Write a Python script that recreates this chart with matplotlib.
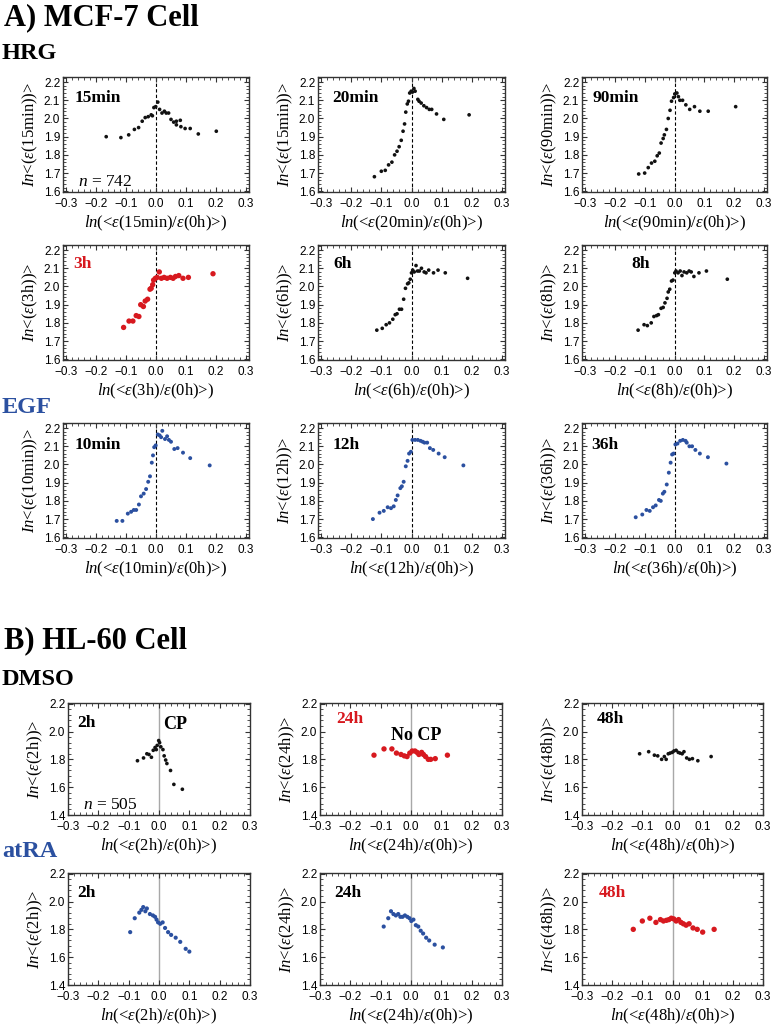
import matplotlib
matplotlib.use("Agg")
import matplotlib.pyplot as plt
from matplotlib.ticker import MultipleLocator

plt.rcParams['font.family'] = ['Liberation Serif', 'DejaVu Serif']
plt.rcParams['mathtext.fontset'] = 'custom'
plt.rcParams['mathtext.rm'] = 'Liberation Serif'
plt.rcParams['mathtext.it'] = 'Liberation Serif:italic'
plt.rcParams['mathtext.bf'] = 'Liberation Serif:bold'

BLACK = '#111111'
RED = '#d7191f'
BLUE = '#2b50a0'

# ---------------- MCF-7, HRG ----------------
hrg_15min_x = [-0.166, -0.117, -0.091, -0.072, -0.058, -0.046, -0.036, -0.026, -0.016, -0.012,
               -0.007, -0.001, 0.006, 0.012, 0.020, 0.028, 0.034, 0.042, 0.050, 0.059,
               0.068, 0.068, 0.081, 0.083, 0.097, 0.114, 0.141, 0.201]
hrg_15min_y = [1.900, 1.895, 1.910, 1.940, 1.950, 1.985, 2.005, 2.010, 2.020, 2.015,
               2.060, 2.065, 2.090, 2.050, 2.030, 2.040, 2.030, 2.030, 1.995, 1.980,
               1.985, 1.965, 1.990, 1.955, 1.945, 1.945, 1.915, 1.930]

hrg_20min_x = [-0.123, -0.100, -0.087, -0.076, -0.065, -0.056, -0.048, -0.041, -0.034, -0.028,
               -0.023, -0.019, -0.014, -0.010, -0.006, -0.001, 0.003, 0.008, 0.012, 0.021,
               0.025, 0.032, 0.041, 0.050, 0.059, 0.067, 0.083, 0.107, 0.191]
hrg_20min_y = [1.680, 1.710, 1.715, 1.745, 1.760, 1.800, 1.820, 1.845, 1.880, 1.930,
               1.970, 2.035, 2.080, 2.095, 2.140, 2.150, 2.145, 2.165, 2.150, 2.105,
               2.095, 2.085, 2.070, 2.060, 2.050, 2.050, 2.025, 1.995, 2.020]

hrg_90min_x = [-0.120, -0.100, -0.088, -0.077, -0.066, -0.058, -0.051, -0.045, -0.038, -0.034,
               -0.027, -0.021, -0.015, -0.010, -0.003, 0.001, 0.008, 0.013, 0.018, 0.027,
               0.038, 0.051, 0.067, 0.085, 0.113, 0.205]
hrg_90min_y = [1.695, 1.700, 1.730, 1.755, 1.765, 1.795, 1.810, 1.865, 1.890, 1.910,
               1.940, 2.000, 2.045, 2.095, 2.115, 2.135, 2.140, 2.120, 2.100, 2.100,
               2.075, 2.050, 2.065, 2.040, 2.040, 2.065]

hrg_3h_x = [-0.108, -0.090, -0.077, -0.066, -0.057, -0.051, -0.042, -0.036, -0.028, -0.020,
            -0.016, -0.011, -0.008, -0.002, 0.004, 0.011, 0.018, 0.027, 0.037, 0.048,
            0.057, 0.065, 0.076, 0.090, 0.108, 0.190]
hrg_3h_y = [1.775, 1.810, 1.810, 1.840, 1.835, 1.900, 1.890, 1.920, 1.930, 1.985,
            1.990, 2.010, 2.035, 2.045, 2.050, 2.080, 2.045, 2.050, 2.045, 2.050,
            2.045, 2.055, 2.060, 2.045, 2.050, 2.070]

hrg_6h_x = [-0.115, -0.097, -0.084, -0.073, -0.062, -0.054, -0.048, -0.040, -0.033, -0.026,
            -0.020, -0.013, -0.009, -0.004, 0.000, 0.004, 0.009, 0.015, 0.020, 0.026,
            0.033, 0.042, 0.048, 0.057, 0.073, 0.088, 0.112, 0.186]
hrg_6h_y = [1.760, 1.770, 1.790, 1.800, 1.820, 1.845, 1.850, 1.875, 1.875, 1.930,
            1.990, 2.015, 2.020, 2.040, 2.075, 2.090, 2.080, 2.115, 2.085, 2.085,
            2.100, 2.080, 2.075, 2.090, 2.075, 2.090, 2.075, 2.045]

hrg_8h_x = [-0.122, -0.102, -0.091, -0.078, -0.069, -0.060, -0.054, -0.045, -0.038, -0.032,
            -0.025, -0.021, -0.016, -0.010, -0.005, 0.001, 0.005, 0.012, 0.019, 0.025,
            0.032, 0.041, 0.049, 0.056, 0.065, 0.082, 0.107, 0.177]
hrg_8h_y = [1.760, 1.790, 1.785, 1.800, 1.835, 1.840, 1.845, 1.880, 1.885, 1.910,
            1.935, 1.970, 1.985, 2.030, 2.035, 2.075, 2.085, 2.075, 2.085, 2.060,
            2.080, 2.075, 2.085, 2.080, 2.055, 2.075, 2.085, 2.040]

# ---------------- MCF-7, EGF ----------------
egf_10min_x = [-0.131, -0.112, -0.094, -0.083, -0.074, -0.066, -0.057, -0.050, -0.041, -0.033,
               -0.026, -0.020, -0.014, -0.010, -0.006, -0.001, 0.006, 0.012, 0.017, 0.021,
               0.030, 0.037, 0.043, 0.050, 0.061, 0.072, 0.090, 0.114, 0.179]
egf_10min_y = [1.690, 1.690, 1.730, 1.740, 1.750, 1.750, 1.780, 1.825, 1.840, 1.865,
               1.905, 1.935, 2.010, 2.050, 2.095, 2.105, 2.165, 2.160, 2.150, 2.185,
               2.140, 2.155, 2.135, 2.125, 2.085, 2.090, 2.065, 2.035, 1.995]

egf_12h_x = [-0.128, -0.106, -0.092, -0.079, -0.068, -0.059, -0.052, -0.046, -0.037, -0.032,
             -0.026, -0.019, -0.013, -0.008, -0.002, 0.003, 0.012, 0.021, 0.030, 0.037,
             0.043, 0.052, 0.061, 0.072, 0.090, 0.110, 0.172]
egf_12h_y = [1.700, 1.735, 1.745, 1.765, 1.760, 1.770, 1.805, 1.830, 1.870, 1.880,
             1.905, 1.990, 2.020, 2.060, 2.070, 2.135, 2.135, 2.135, 2.130, 2.125,
             2.120, 2.120, 2.090, 2.080, 2.060, 2.040, 1.995]

egf_36h_x = [-0.130, -0.108, -0.094, -0.083, -0.072, -0.063, -0.052, -0.046, -0.039, -0.034,
             -0.026, -0.019, -0.013, -0.008, -0.003, 0.003, 0.010, 0.019, 0.028, 0.037,
             0.041, 0.050, 0.059, 0.070, 0.085, 0.112, 0.174]
egf_36h_y = [1.710, 1.725, 1.750, 1.745, 1.765, 1.775, 1.805, 1.800, 1.840, 1.850,
             1.890, 1.955, 2.010, 2.055, 2.060, 2.110, 2.115, 2.130, 2.135, 2.130,
             2.120, 2.100, 2.100, 2.080, 2.060, 2.040, 2.005]

# ---------------- HL-60, DMSO ----------------
dmso_2h_x = [-0.071, -0.051, -0.040, -0.033, -0.025, -0.019, -0.013, -0.009, -0.006, -0.001,
             0.002, 0.006, 0.013, 0.017, 0.022, 0.026, 0.038, 0.049, 0.077]
dmso_2h_y = [1.790, 1.810, 1.840, 1.835, 1.815, 1.865, 1.885, 1.870, 1.900, 1.935,
             1.920, 1.890, 1.870, 1.825, 1.795, 1.770, 1.720, 1.620, 1.585]

dmso_24h_x = [-0.122, -0.089, -0.063, -0.048, -0.033, -0.022, -0.013, -0.004, 0.004, 0.013,
              0.020, 0.026, 0.035, 0.041, 0.048, 0.057, 0.065, 0.080, 0.120]
dmso_24h_y = [1.830, 1.875, 1.875, 1.845, 1.835, 1.825, 1.820, 1.845, 1.860, 1.860,
              1.850, 1.835, 1.850, 1.835, 1.820, 1.800, 1.800, 1.805, 1.830]

dmso_48h_x = [-0.109, -0.079, -0.060, -0.049, -0.036, -0.027, -0.021, -0.014, -0.008, -0.001,
              0.005, 0.012, 0.019, 0.025, 0.032, 0.038, 0.047, 0.056, 0.066, 0.084, 0.128]
dmso_48h_y = [1.840, 1.855, 1.830, 1.825, 1.800, 1.820, 1.800, 1.840, 1.845, 1.850,
              1.860, 1.865, 1.850, 1.845, 1.840, 1.855, 1.810, 1.800, 1.805, 1.790, 1.820]

# ---------------- HL-60, atRA ----------------
atra_2h_x = [-0.095, -0.080, -0.065, -0.058, -0.052, -0.045, -0.040, -0.030, -0.020, -0.013,
             -0.008, -0.003, 0.004, 0.012, 0.020, 0.030, 0.040, 0.055, 0.070, 0.088, 0.100]
atra_2h_y = [1.780, 1.880, 1.920, 1.940, 1.960, 1.930, 1.950, 1.910, 1.900, 1.890,
             1.870, 1.850, 1.840, 1.850, 1.810, 1.780, 1.760, 1.740, 1.710, 1.660, 1.640]

atra_24h_x = [-0.090, -0.075, -0.066, -0.058, -0.050, -0.042, -0.035, -0.028, -0.020, -0.012,
              -0.005, 0.001, 0.008, 0.016, 0.024, 0.032, 0.040, 0.050, 0.060, 0.078, 0.105]
atra_24h_y = [1.820, 1.880, 1.930, 1.910, 1.900, 1.910, 1.890, 1.890, 1.900, 1.890,
              1.880, 1.860, 1.870, 1.830, 1.820, 1.790, 1.770, 1.740, 1.720, 1.690, 1.670]

atra_48h_x = [-0.130, -0.100, -0.075, -0.055, -0.040, -0.030, -0.020, -0.012, -0.004, 0.004,
              0.012, 0.020, 0.028, 0.036, 0.045, 0.055, 0.068, 0.082, 0.100, 0.138]
atra_48h_y = [1.800, 1.860, 1.880, 1.850, 1.870, 1.860, 1.865, 1.870, 1.880, 1.875,
              1.860, 1.870, 1.850, 1.840, 1.830, 1.840, 1.810, 1.800, 1.780, 1.800]


def eps_ylabel(t):
    return r"$\mathit{In}$<($\varepsilon$(" + t + "))>"


def eps_xlabel(t):
    return r"$\mathit{ln}$(<$\varepsilon$(" + t + r")/$\varepsilon$(0h)>)"


W, H = 771, 1024
fig = plt.figure(figsize=(W / 100, H / 100), dpi=100)


def make_axes(left, top, width, height):
    return fig.add_axes([left / W, 1 - (top + height) / H, width / W, height / H])


def style_axes(ax, part):
    for sp in ax.spines.values():
        sp.set_linewidth(1.0)
        sp.set_color('#333333')
    ax.tick_params(which='both', direction='in', top=True, right=True,
                   labelsize=8.5, colors='#333333', labelcolor='black')
    ax.tick_params(axis='y', pad=2)
    ax.tick_params(axis='x', pad=4)
    ax.tick_params(which='major', length=3.5, width=0.8)
    ax.tick_params(which='minor', length=2, width=0.6)
    if part == 'A':
        ax.set_xlim(-0.31, 0.31)
        ax.set_ylim(1.596, 2.228)
        ax.yaxis.set_major_locator(MultipleLocator(0.1))
        ax.yaxis.set_minor_locator(MultipleLocator(0.02))
    else:
        ax.set_xlim(-0.3, 0.3)
        ax.set_ylim(1.4, 2.205)
        ax.yaxis.set_major_locator(MultipleLocator(0.2))
        ax.yaxis.set_minor_locator(MultipleLocator(0.04))
    ax.xaxis.set_major_locator(MultipleLocator(0.1))
    ax.xaxis.set_minor_locator(MultipleLocator(0.02))
    ax.xaxis.set_major_formatter(plt.FuncFormatter(lambda v, p: f"{v:.1f}".replace('-', '\u2212')))
    ax.yaxis.set_major_formatter(plt.FuncFormatter(lambda v, p: f"{v:.1f}"))


def panel(ax, xs, ys, color, size, label, lcolor, lpos, t, part):
    style_axes(ax, part)
    if part == 'A':
        ax.axvline(0, color='black', lw=0.8, ls=(0, (3, 2)), zorder=1)
    else:
        ax.axvline(0, color='#a8a8a8', lw=1.0, zorder=1)
    ax.scatter(xs, ys, s=size, color=color, edgecolors='none', zorder=3)
    ax.text(lpos[0], lpos[1], label, transform=ax.transAxes, color=lcolor,
            fontsize=12.5, fontweight='bold', ha='left', va='baseline')
    ax.set_ylabel(eps_ylabel(t), fontsize=12, labelpad=3)
    ax.set_xlabel(eps_xlabel(t), fontsize=12, labelpad=3)
    for lab in ax.get_xticklabels() + ax.get_yticklabels():
        lab.set_fontfamily('Liberation Sans')


colsA = [(63, 186), (318, 187), (582, 185)]
rowsA = [77, 245, 423]
hA = 115
colsB = [(68, 182), (320, 182), (582, 181)]
rowsB = [703, 873]
hB = 112

# Row A1: HRG early
ax = make_axes(colsA[0][0], rowsA[0], colsA[0][1], hA)
panel(ax, hrg_15min_x, hrg_15min_y, BLACK, 7, '15min', 'black', (0.06, 0.78), '15min', 'A')
ax.text(0.08, 0.05, r"$n$ = 742", transform=ax.transAxes, fontsize=12.5, va='baseline')
ax = make_axes(colsA[1][0], rowsA[0], colsA[1][1], hA)
panel(ax, hrg_20min_x, hrg_20min_y, BLACK, 7, '20min', 'black', (0.075, 0.78), '20min', 'A')
ax.set_ylabel(eps_ylabel('15min'), fontsize=12, labelpad=3)
ax = make_axes(colsA[2][0], rowsA[0], colsA[2][1], hA)
panel(ax, hrg_90min_x, hrg_90min_y, BLACK, 7, '90min', 'black', (0.055, 0.78), '90min', 'A')

# Row A2: HRG late
ax = make_axes(colsA[0][0], rowsA[1], colsA[0][1], hA)
panel(ax, hrg_3h_x, hrg_3h_y, RED, 15, '3h', RED, (0.055, 0.8), '3h', 'A')
ax = make_axes(colsA[1][0], rowsA[1], colsA[1][1], hA)
panel(ax, hrg_6h_x, hrg_6h_y, BLACK, 7, '6h', 'black', (0.08, 0.8), '6h', 'A')
ax = make_axes(colsA[2][0], rowsA[1], colsA[2][1], hA)
panel(ax, hrg_8h_x, hrg_8h_y, BLACK, 7, '8h', 'black', (0.265, 0.8), '8h', 'A')

# Row A3: EGF
ax = make_axes(colsA[0][0], rowsA[2], colsA[0][1], hA)
panel(ax, egf_10min_x, egf_10min_y, BLUE, 8, '10min', 'black', (0.06, 0.77), '10min', 'A')
ax = make_axes(colsA[1][0], rowsA[2], colsA[1][1], hA)
panel(ax, egf_12h_x, egf_12h_y, BLUE, 8, '12h', 'black', (0.08, 0.77), '12h', 'A')
ax = make_axes(colsA[2][0], rowsA[2], colsA[2][1], hA)
panel(ax, egf_36h_x, egf_36h_y, BLUE, 8, '36h', 'black', (0.05, 0.77), '36h', 'A')

# Row B1: DMSO
ax = make_axes(colsB[0][0], rowsB[0], colsB[0][1], hB)
panel(ax, dmso_2h_x, dmso_2h_y, BLACK, 7, '2h', 'black', (0.05, 0.79), '2h', 'B')
ax.text(0.52, 0.77, 'CP', transform=ax.transAxes, fontsize=13, fontweight='bold', va='baseline')
ax.text(0.08, 0.05, r"$n$ = 505", transform=ax.transAxes, fontsize=12.5, va='baseline')
ax = make_axes(colsB[1][0], rowsB[0], colsB[1][1], hB)
panel(ax, dmso_24h_x, dmso_24h_y, RED, 15, '24h', RED, (0.09, 0.82), '24h', 'B')
ax.text(0.39, 0.67, 'No CP', transform=ax.transAxes, fontsize=13, fontweight='bold', va='baseline')
ax = make_axes(colsB[2][0], rowsB[0], colsB[2][1], hB)
panel(ax, dmso_48h_x, dmso_48h_y, BLACK, 7, '48h', 'black', (0.08, 0.82), '48h', 'B')

# Row B2: atRA
ax = make_axes(colsB[0][0], rowsB[1], colsB[0][1], hB)
panel(ax, atra_2h_x, atra_2h_y, BLUE, 9, '2h', 'black', (0.05, 0.79), '2h', 'B')
ax = make_axes(colsB[1][0], rowsB[1], colsB[1][1], hB)
panel(ax, atra_24h_x, atra_24h_y, BLUE, 9, '24h', 'black', (0.08, 0.79), '24h', 'B')
ax = make_axes(colsB[2][0], rowsB[1], colsB[2][1], hB)
panel(ax, atra_48h_x, atra_48h_y, RED, 15, '48h', RED, (0.09, 0.79), '48h', 'B')


# section headings
def heading(x, y_base, text, size, color='black'):
    fig.text(x / W, 1 - y_base / H, text, fontsize=size, fontweight='bold',
             color=color, ha='left', va='baseline')


heading(4, 25, 'A) MCF-7 Cell', 22)
heading(2, 59, 'HRG', 17.5)
heading(2, 413, 'EGF', 17.5, BLUE)
heading(4, 648, 'B) HL-60 Cell', 22)
heading(2, 685, 'DMSO', 17.5)
heading(2, 857, 'atRA', 17.5, BLUE)

fig.savefig('out.png', dpi=100)
